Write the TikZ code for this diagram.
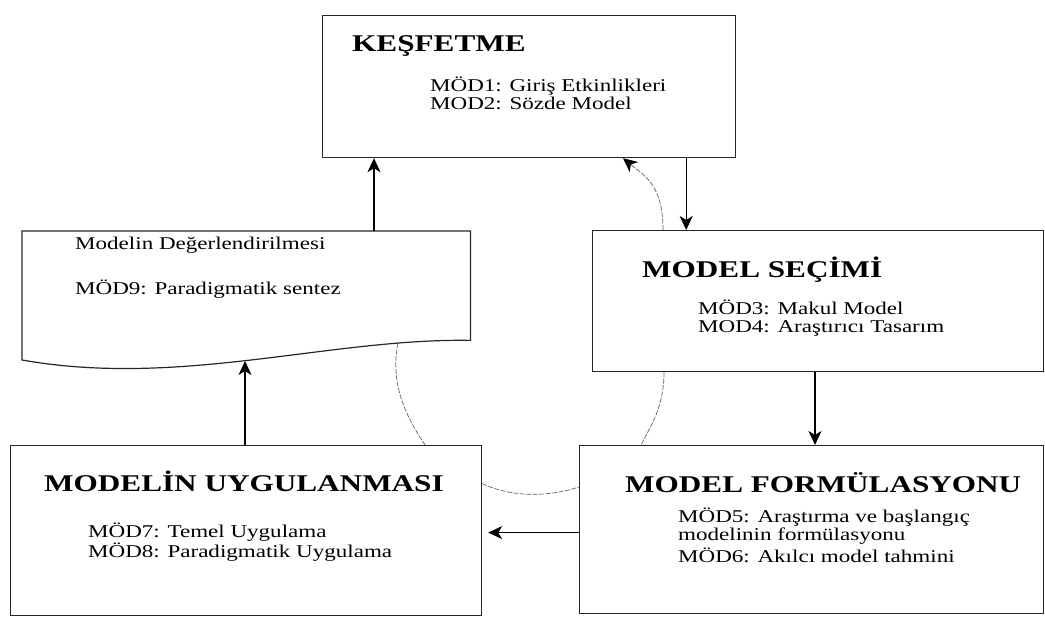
\documentclass[tikz,border=0pt]{standalone}
\usepackage{fontspec}
\usepackage{graphicx}
\setmainfont{Liberation Serif}
\usetikzlibrary{arrows.meta}
\newcommand\bodytext[1]{\scalebox{1.28}[1]{#1}}
\newcommand\titletext[1]{\scalebox{1.3}[1]{#1}}
\begin{document}
\begin{tikzpicture}[x=1pt,y=-1pt,
  box/.style={draw=black!85, line width=1.2pt, rectangle, inner sep=0pt, anchor=north west},
  ttl/.style={anchor=base west, inner sep=0pt, font=\fontsize{24}{28}\selectfont\bfseries},
  txt/.style={anchor=base west, inner sep=0pt, font=\fontsize{18}{20}\selectfont},
  arr/.style={draw=black, line width=1.1pt, -{Stealth[length=14pt,width=13pt,inset=4pt]}},
  dsh/.style={draw=black!60, line width=0.7pt, dash pattern=on 5pt off 1.5pt}]
\useasboundingbox (0,0) rectangle (1045,617);

% boxes
\node[box, minimum width=413pt, minimum height=142pt] (kesf) at (322,15) {};
\node[box, minimum width=451pt, minimum height=141pt] (secim) at (592,230) {};
\node[box, minimum width=471pt, minimum height=170pt] (uyg) at (10,445) {};
\node[box, minimum width=464pt, minimum height=168pt] (form) at (579,445) {};
\node[inner sep=0pt, minimum width=448pt, minimum height=109pt, anchor=north west] (doc) at (22,231) {};
\draw[draw=black!85, line width=1.2pt] (doc.north west) -- (doc.north east) -- (doc.south east)
  .. controls (330,338) and (180,388) .. (22,360) -- cycle;
\coordinate (docb) at (245,361);
\coordinate (docc) at (398,343);

% texts
\node[ttl] (kt) at (352,52) {\titletext{KEŞFETME}};
\node[txt] (k1) at (430,92) {\bodytext{MÖD1: Giriş Etkinlikleri}};
\node[txt] (k2) at (430,110) {\bodytext{MOD2: Sözde Model}};

\node[txt] (d1) at (75,250) {\bodytext{Modelin Değerlendirilmesi}};
\node[txt] (d2) at (75,295) {\bodytext{MÖD9: Paradigmatik sentez}};

\node[ttl] (st) at (642,278) {\titletext{MODEL SEÇİMİ}};
\node[txt] (s1) at (698,315) {\bodytext{MÖD3: Makul Model}};
\node[txt] (s2) at (698,333) {\bodytext{MOD4: Araştırıcı Tasarım}};

\node[ttl] (ut) at (44,492) {\titletext{MODELİN UYGULANMASI}};
\node[txt] (u1) at (88,538) {\bodytext{MÖD7: Temel Uygulama}};
\node[txt] (u2) at (88,558) {\bodytext{MÖD8: Paradigmatik Uygulama}};

\node[ttl] (ft) at (625,493) {\titletext{MODEL FORMÜLASYONU}};
\node[txt] (f1) at (678,522) {\bodytext{MÖD5: Araştırma ve başlangıç}};
\node[txt] (f2) at (678,540) {\bodytext{modelinin formülasyonu}};
\node[txt] (f3) at (678,562) {\bodytext{MÖD6: Akılcı model tahmini}};

% solid arrows
\draw[arr] ([xshift=352pt]doc.north west) -- ([xshift=352pt]doc.north west |- kesf.south);
\draw[arr] ([xshift=-50pt]kesf.south east) -- ([xshift=-50pt]kesf.south east |- secim.north);
\draw[arr] ([xshift=223pt]secim.south west) -- ([xshift=223pt]secim.south west |- form.north);
\draw[arr] ([yshift=-3pt]form.west) -- ([yshift=-3pt,xshift=6pt]form.west -| uyg.east);
\draw[arr] ([xshift=235pt]uyg.north west) -- (docb);

% dashed curves
\draw[dsh, -{Stealth[length=14pt,width=13pt,inset=4pt,black]}] ([xshift=71pt]secim.north west)
  .. controls +(0,-45) and +(22,18) .. ([xshift=301pt]kesf.south west);
\draw[dsh] ([xshift=72pt]secim.south west) .. controls +(0,35) and +(10,-20) .. ([xshift=62pt]form.north west);
\draw[dsh] ([yshift=47pt]uyg.east) .. controls +(30,14) and +(-30,10) .. ([yshift=-42pt]form.north west);
\draw[dsh] (docc) .. controls +(-8,40) and +(-20,-30) .. ([xshift=415pt]uyg.north west);
\end{tikzpicture}
\end{document}
